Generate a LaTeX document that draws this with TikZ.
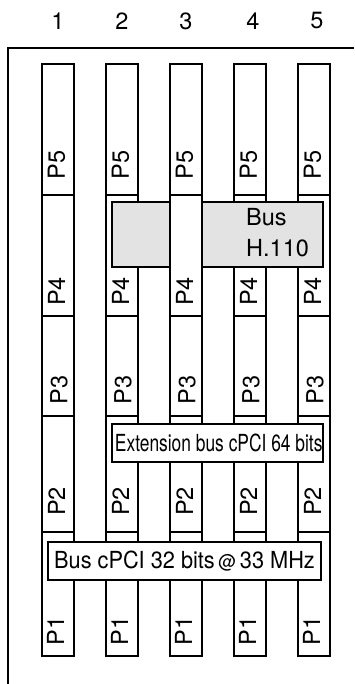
\documentclass[tikz,border=0pt]{standalone}
\usepackage{fontspec}
\setmainfont{TeX Gyre Heros}
\usetikzlibrary{positioning}
\tikzset{
  slot/.style={draw, line width=1.3pt, fill=white},
  bus/.style={draw, line width=1.3pt, fill=white, inner sep=0pt},
  hbus/.style={draw, line width=1.3pt, fill=black!11},
  conn/.style={rotate=90, inner sep=0pt, font=\fontsize{23.5}{24}\selectfont},
  num/.style={inner sep=0pt, font=\fontsize{23.5}{24}\selectfont},
  note/.style={inner sep=0pt, align=left, anchor=base west, font=\fontsize{23.5}{24}\selectfont}
}
\begin{document}
\begin{tikzpicture}[x=1pt, y=-1pt]
    \useasboundingbox (0,0) rectangle (354,684);
    % chassis outline
    \draw[line width=1.3pt] (8,684) -- (8,48) -- (354,48);
    % slots, left edge and number position
    \foreach \x/\n/\t in {42/1/58, 106/2/122, 170/3/186, 234/4/253, 298/5/317} {
        \draw[slot] (\x,64) rectangle (\x+32,195);
        \draw[slot] (\x,195) rectangle (\x+32,316);
        \draw[slot] (\x,316) rectangle (\x+32,416);
        \draw[slot] (\x,416) rectangle (\x+32,532);
        \draw[slot] (\x,532) rectangle (\x+32,656);
        \node[num] (n\n) at (\t,21) {\n};
    }
    % H.110 passes behind slot 3
    \draw[hbus] (112,202) rectangle (323,267);
    \draw[slot] (170,195) rectangle (202,316);
    \node[note] (h1) at (246,226) {Bus};
    \node[note] (h2) at (246,256) {H.110};
    \node[bus, minimum width=211pt, minimum height=38pt] (ext) at (217.5,443) {\hspace*{2.5pt}\scalebox{.74}[1]{\fontsize{23.5}{24}\selectfont Extension bus cPCI 64 bits}};
    \node[bus, minimum width=273pt, minimum height=38pt] (pci) at (184.5,561) {\scalebox{.925}[1]{\fontsize{23.5}{24}\selectfont Bus cPCI 32 bits\,{\fontsize{19}{19}\selectfont @}\,33 MHz}};
    % connector names
    \foreach \x/\n in {42/1, 106/2, 170/3, 234/4, 298/5} {
        \node[conn] (pf\n) at (\x+14.5,165) {P5};
        \node[conn] (pe\n) at (\x+14.5,291.5) {P4};
        \node[conn] (pd\n) at (\x+17,390) {P3};
        \node[conn] (pc\n) at (\x+14.5,501.5) {P2};
        \node[conn] (pb\n) at (\x+13.5,631) {P1};
    }
\end{tikzpicture}
\end{document}
